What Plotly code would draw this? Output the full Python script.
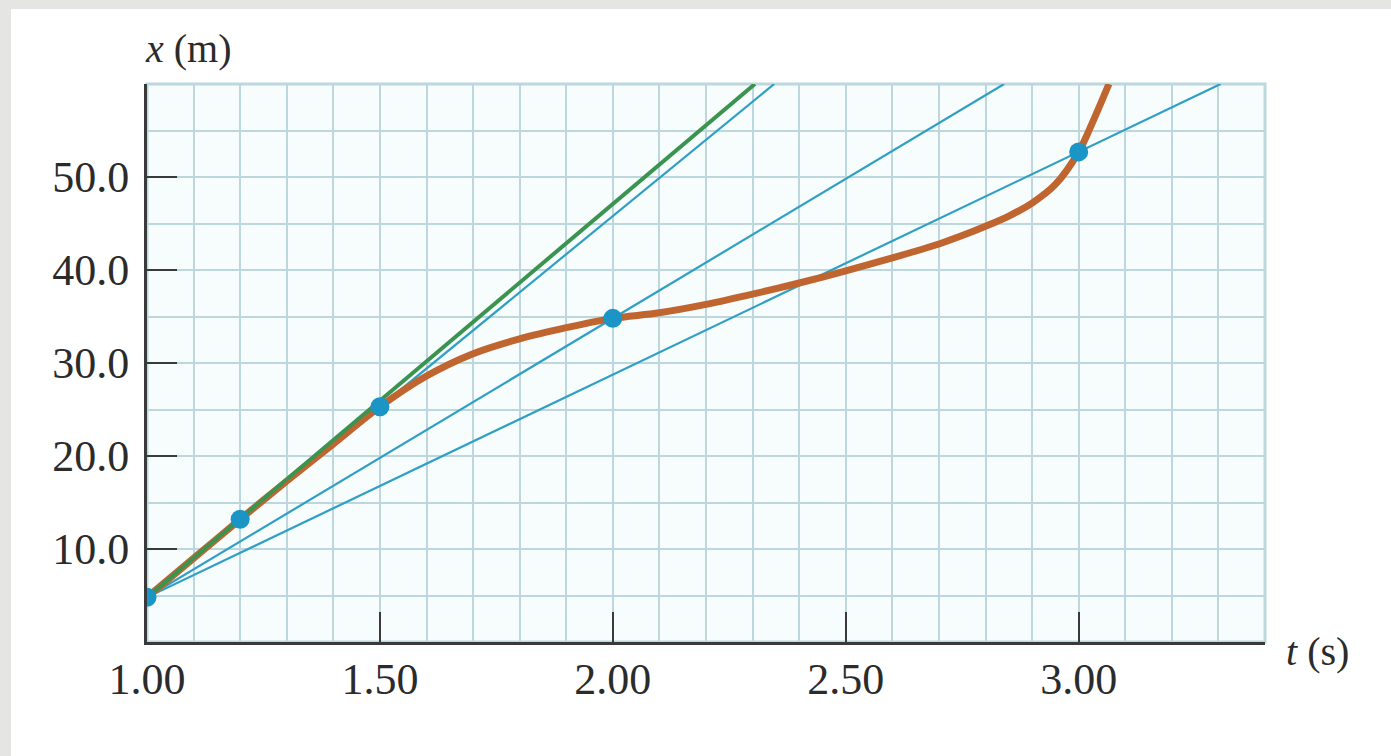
import plotly.graph_objects as go

# ---- data ----
T_PTS = [1.00, 1.20, 1.50, 2.00, 3.00]
X_PTS = [4.8, 13.2, 25.3, 34.8, 52.7]

T_CURVE = [1.00, 1.10, 1.20, 1.30, 1.40, 1.50, 1.60, 1.70, 1.80, 1.90, 2.00,
           2.10, 2.20, 2.30, 2.40, 2.50, 2.60, 2.70, 2.75, 2.80, 2.85, 2.90,
           2.95, 3.00, 3.03, 3.065]
X_CURVE = [4.8, 9.0, 13.2, 17.3, 21.3, 25.3, 28.6, 31.0, 32.6, 33.8, 34.8,
           35.4, 36.3, 37.4, 38.6, 39.9, 41.3, 42.8, 43.7, 44.7, 45.8, 47.2,
           49.2, 52.7, 55.9, 60.0]

TANGENT_SLOPE = 42.3          # m/s, green tangent at t = 1.00 s
SECANT_TO = [2, 3, 4]          # indices of points the blue secants pass through

X_TICKS = [1.00, 1.50, 2.00, 2.50, 3.00, 3.40]
X_TICK_TEXT = ["1.00", "1.50", "2.00", "2.50", "3.00", ""]
Y_TICKS = [10, 20, 30, 40, 50, 60]
Y_TICK_TEXT = ["10.0", "20.0", "30.0", "40.0", "50.0", ""]
T_RANGE = [1.0, 3.4]
X_RANGE = [0, 60]

# ---- styles ----
ORANGE = "#c0652f"
GREEN = "#3a9450"
BLUE_LINE = "#2f9fc4"
BLUE_DOT = "#1b94c6"
GRID = "#bcd8de"
AXIS = "#3a3a3a"
TXT = "#2b2b2b"
FONT = "Liberation Serif"

t0, x0 = T_PTS[0], X_PTS[0]
xtop = X_RANGE[1]

fig = go.Figure()

# blue secant lines from the first point through later points, up to the top
for i in SECANT_TO:
    slope = (X_PTS[i] - x0) / (T_PTS[i] - t0)
    fig.add_trace(go.Scatter(
        x=[t0, t0 + (xtop - x0) / slope], y=[x0, xtop], mode="lines",
        line=dict(color=BLUE_LINE, width=2.2), hoverinfo="skip"))

# orange x(t) curve
fig.add_trace(go.Scatter(
    x=T_CURVE, y=X_CURVE, mode="lines",
    line=dict(color=ORANGE, width=7, shape="spline", smoothing=0.9)))

# green tangent
fig.add_trace(go.Scatter(
    x=[t0, t0 + (xtop - x0) / TANGENT_SLOPE], y=[x0, xtop], mode="lines",
    line=dict(color=GREEN, width=4)))

# points
fig.add_trace(go.Scatter(
    x=T_PTS, y=X_PTS, mode="markers",
    marker=dict(color=BLUE_DOT, size=19, line=dict(width=0))))

W, H = 1391, 756
ML, MR, MT, MB = 147, 126, 84, 114
PW, PH = W - ML - MR, H - MT - MB

def px(xp):
    return (xp - ML) / PW

def py(yp):
    return (H - MB - yp) / PH

axis_common = dict(
    ticks="inside", ticklen=30, tickwidth=2, tickcolor=AXIS,
    showline=True, linecolor=AXIS, linewidth=3, mirror=False,
    showgrid=True, gridcolor=GRID, gridwidth=2, zeroline=False,
    tickfont=dict(family=FONT, size=44, color=TXT),
)

fig.update_layout(
    width=W, height=H,
    margin=dict(l=ML, r=MR, t=MT, b=MB),
    paper_bgcolor="white", plot_bgcolor="#f7fcfd",
    showlegend=False,
    xaxis=dict(range=T_RANGE, tickmode="array", tickvals=X_TICKS, ticktext=X_TICK_TEXT,
               minor=dict(dtick=0.1, tick0=1.0, showgrid=True, gridcolor=GRID, gridwidth=2, ticks=""),
               ticklabelstandoff=-4, **axis_common),
    yaxis=dict(range=X_RANGE, tickmode="array", tickvals=Y_TICKS, ticktext=Y_TICK_TEXT,
               minor=dict(dtick=5, tick0=0, showgrid=True, gridcolor=GRID, gridwidth=2, ticks=""),
               ticklabelstandoff=6, **axis_common),
    shapes=[
        dict(type="rect", xref="paper", yref="paper", x0=px(0), x1=px(11), y0=py(H), y1=py(0),
             fillcolor="#e5e5e3", line=dict(width=0), layer="below"),
        dict(type="rect", xref="paper", yref="paper", x0=px(0), x1=px(W), y0=py(9), y1=py(0),
             fillcolor="#e5e5e3", line=dict(width=0), layer="below"),
        # grid border at the top and right edges of the plotting area
        dict(type="rect", xref="paper", yref="paper", x0=0, x1=1, y0=0, y1=1,
             fillcolor="rgba(0,0,0,0)", line=dict(color=GRID, width=3), layer="below"),
    ],
    annotations=[
        dict(text="<i>x</i> (m)", xref="paper", yref="paper", x=px(188), y=py(49),
             xanchor="center", yanchor="middle", showarrow=False,
             font=dict(family=FONT, size=40, color=TXT)),
        dict(text="<i>t</i> (s)", xref="paper", yref="paper", x=px(1317), y=py(651),
             xanchor="center", yanchor="middle", showarrow=False,
             font=dict(family=FONT, size=40, color=TXT)),
    ],
)

fig.write_html("out.html",
               config={"displayModeBar": False},
               post_script="document.body.style.margin='0';document.body.style.overflow='hidden';")
